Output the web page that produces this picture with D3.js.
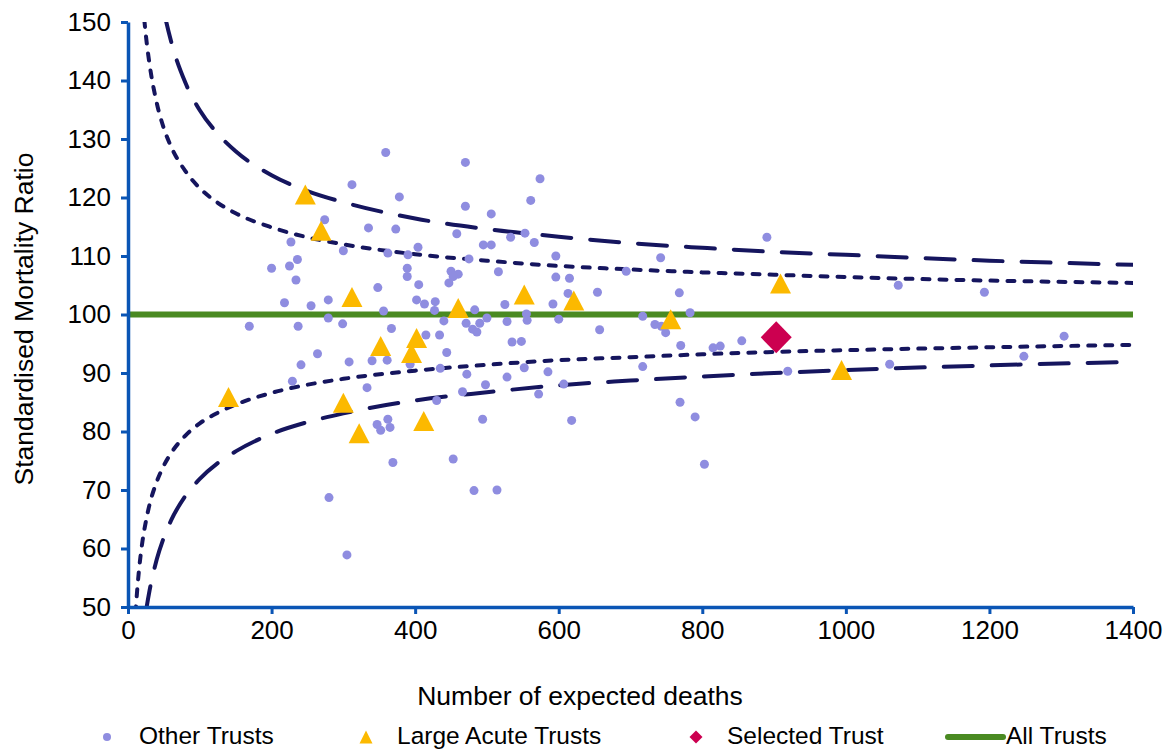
<!DOCTYPE html>
<html>
<head>
<meta charset="utf-8">
<script src="https://cdn.jsdelivr.net/npm/d3@7"></script>
<style>
  html, body { margin: 0; padding: 0; background: #ffffff; }
  svg { display: block; }
  text { font-family: "Liberation Sans", Arial, sans-serif; fill: #000; }
</style>
</head>
<body>
<svg id="chart" width="1164" height="750"></svg>
<script>
// ---------- DATA ----------
const xTicks = [0, 200, 400, 600, 800, 1000, 1200, 1400];
const yTicks = [50, 60, 70, 80, 90, 100, 110, 120, 130, 140, 150];

// Other Trusts: [expected deaths, SMR]
const otherTrusts = [
  [274,116.2],[227,112.4],[236,109.4],[225,108.3],[200,107.9],[234,105.9],[218,102.0],[255,101.5],
  [279,102.5],[279,99.4],[169,98.0],[237,98.0],
  [359,127.7],[470,126.0],[312,122.2],[574,123.2],[378,120.1],[470,118.5],[506,117.2],[561,119.5],
  [335,114.8],[373,114.6],[458,113.8],[533,113.2],[553,113.9],[566,112.3],[495,111.9],[506,111.9],
  [300,110.9],[362,110.5],[390,110.2],[404,111.5],[475,109.5],[389,107.9],[389,106.5],[450,107.4],
  [460,106.9],[453,106.5],[447,105.4],[516,107.3],[348,104.6],[405,105.1],[402,102.5],[413,101.8],
  [428,102.2],[427,100.7],[356,100.6],[483,100.8],[525,101.7],[555,100.1],[556,99.0],[299,98.4],
  [367,97.6],[440,98.9],[471,98.5],[490,98.5],[500,99.4],[528,98.8],
  [890,113.2],[596,110.0],[742,109.7],[694,107.4],[596,106.4],[615,106.2],[613,103.6],[654,103.8],
  [768,103.7],[592,101.8],[600,99.2],[717,99.7],[783,100.3],[734,98.3],[743,98.0],[749,96.9],[657,97.4],
  [264,93.3],[241,91.4],[229,88.6],[280,68.7],
  [480,97.5],[486,97.0],[415,96.5],[434,96.5],[444,93.5],[535,95.3],[548,95.4],[308,91.9],[340,92.1],
  [361,92.2],[393,91.5],[435,90.8],[472,89.8],[498,88.0],[528,89.3],[552,90.9],[585,90.2],[572,86.4],
  [333,87.5],[430,85.3],[466,86.8],[494,82.1],[347,81.2],[352,80.2],[362,82.1],[365,80.7],[369,74.7],
  [453,75.3],[482,69.9],[514,70.0],[305,58.9],
  [770,94.7],[815,94.3],[825,94.6],[855,95.5],[717,91.1],[607,88.1],[919,90.3],[769,85.0],[790,82.5],
  [618,81.9],[803,74.4],
  [1073,105.0],[1193,103.8],[1304,96.3],[1248,92.85],[1061,91.5]
];

// Large Acute Trusts
const largeAcute = [
  [247,120.5],[269,114.3],[312,103.0],[460,101.1],[552,103.4],[621,102.4],[756,99.2],[909,105.3],
  [140,85.9],[352,94.6],[402,96.0],[395,93.4],[300,84.9],[322,79.7],[412,81.8],[994,90.5]
];

// Selected Trust
const selectedTrust = [[903,96.1]];

// All Trusts reference line
const allTrusts = [[0,100],[1400,100]];

// Control limits
const upperE = [15,20,25,30,40,50,60,80,100,125,150,200,250,300,400,500,600,700,800,900,1000,1200,1400];
const upper95 = [164.9,154.4,147.6,142.8,136.2,131.8,128.7,124.5,121.6,119.1,117.3,114.9,113.2,112.0,110.3,109.2,108.3,107.7,107.2,106.8,106.4,105.8,105.4];
const upper998 = [208.6,190.4,178.7,170.4,159.2,151.9,146.7,139.6,134.9,130.9,127.9,123.8,121.1,119.2,116.4,114.6,113.3,112.2,111.4,110.7,110.2,109.2,108.5];
const lowerE = [8,10,12,15,20,25,30,40,50,60,80,100,125,150,200,250,300,400,500,600,700,800,900,1000,1200,1400];
const lower95 = [43.1,47.9,51.6,55.9,61.1,64.7,67.5,71.4,74.2,76.3,79.3,81.4,83.2,84.6,86.6,88.0,89.0,90.4,91.4,92.2,92.7,93.2,93.6,93.9,94.4,94.8];
const lower998 = [24.1,29.2,33.3,38.4,44.6,49.2,52.8,58.1,61.9,64.8,69.0,71.9,74.6,76.6,79.6,81.6,83.1,85.3,86.7,87.9,88.7,89.4,90.0,90.5,91.3,91.9];

const legendLabels = ["Other Trusts", "Large Acute Trusts", "Selected Trust", "All Trusts"];

// ---------- DRAW ----------
const svg = d3.select("#chart");
const L = 128, R = 1133, T = 22, B = 607;
const x = d3.scaleLinear().domain([0, 1400]).range([L, R]);
const y = d3.scaleLinear().domain([50, 150]).range([B, T]);

const axisBlue = "#0a55b5";
const navy = "#15155e";
const green = "#4a8a22";
const purple = "#8f8de0";
const amber = "#fcb900";
const crimson = "#cc0050";

svg.append("rect").attr("width", 1164).attr("height", 750).attr("fill", "#fff");

svg.append("clipPath").attr("id", "plotClip")
  .append("rect").attr("x", L).attr("y", T).attr("width", R - L).attr("height", B - T);

const line = d3.line().x(d => x(d[0])).y(d => y(d[1])).curve(d3.curveMonotoneX);
const gLines = svg.append("g").attr("clip-path", "url(#plotClip)");

function funnel(es, vs, dash) {
  gLines.append("path")
    .datum(es.map((e, i) => [e, vs[i]]))
    .attr("d", line)
    .attr("fill", "none")
    .attr("stroke", navy)
    .attr("stroke-width", 4)
    .attr("stroke-linecap", "round")
    .attr("stroke-dasharray", dash);
}
funnel(upperE, upper95, "7,10");
funnel(lowerE, lower95, "7,10");
funnel(upperE, upper998, "29,19");
funnel(lowerE, lower998, "29,19");

// All trusts line
svg.append("path")
  .datum(allTrusts)
  .attr("d", d3.line().x(d => x(d[0])).y(d => y(d[1])))
  .attr("fill", "none")
  .attr("stroke", green)
  .attr("stroke-width", 6);

// Other trusts
svg.append("g").selectAll("circle").data(otherTrusts).join("circle")
  .attr("cx", d => x(d[0])).attr("cy", d => y(d[1])).attr("r", 4.5)
  .attr("fill", purple);

// Large acute triangles
function tri(cx, cy, w, h) {
  return `M${cx},${cy - h / 2}L${cx + w / 2},${cy + h / 2}L${cx - w / 2},${cy + h / 2}Z`;
}
svg.append("g").selectAll("path").data(largeAcute).join("path")
  .attr("d", d => tri(x(d[0]), y(d[1]), 21, 20))
  .attr("fill", amber);

// Selected trust diamond
function diamond(cx, cy, w, h) {
  return `M${cx},${cy - h / 2}L${cx + w / 2},${cy}L${cx},${cy + h / 2}L${cx - w / 2},${cy}Z`;
}
svg.append("g").selectAll("path").data(selectedTrust).join("path")
  .attr("d", d => diamond(x(d[0]), y(d[1]), 31, 32))
  .attr("fill", crimson);

// Axes
const yAxis = d3.axisLeft(y).tickValues(yTicks).tickSize(7).tickSizeOuter(0).tickPadding(10)
  .tickFormat(d3.format("d"));
const xAxis = d3.axisBottom(x).tickValues(xTicks).tickSize(7).tickSizeOuter(0).tickPadding(7)
  .tickFormat(d3.format("d"));

const gy = svg.append("g").attr("transform", `translate(${L},0)`).call(yAxis);
const gx = svg.append("g").attr("transform", `translate(0,${B})`).call(xAxis);
[gy, gx].forEach(g => {
  g.select(".domain").attr("stroke", axisBlue).attr("stroke-width", 3.5);
  g.selectAll(".tick line").attr("stroke", axisBlue).attr("stroke-width", 3);
  g.selectAll(".tick text").attr("fill", "#000").attr("font-size", 26)
    .attr("font-family", '"Liberation Sans", Arial, sans-serif');
});

// Axis titles
svg.append("text")
  .attr("transform", "translate(33,319) rotate(-90)")
  .attr("text-anchor", "middle")
  .attr("font-size", 26.5)
  .text("Standardised Mortality Ratio");

svg.append("text")
  .attr("x", 580).attr("y", 705)
  .attr("text-anchor", "middle")
  .attr("font-size", 26.5)
  .text("Number of expected deaths");

// Legend
const ly = 737;
const lty = 744;
const lg = svg.append("g");
lg.append("circle").attr("cx", 107).attr("cy", ly).attr("r", 4).attr("fill", purple);
lg.append("text").attr("x", 139).attr("y", lty).attr("font-size", 24.5).text(legendLabels[0]);
lg.append("path").attr("d", tri(366, ly, 13, 13)).attr("fill", amber);
lg.append("text").attr("x", 397).attr("y", lty).attr("font-size", 24.5).text(legendLabels[1]);
lg.append("path").attr("d", diamond(696, ly, 13, 13)).attr("fill", crimson);
lg.append("text").attr("x", 727).attr("y", lty).attr("font-size", 24.5).text(legendLabels[2]);
lg.append("line").attr("x1", 948).attr("x2", 1003).attr("y1", ly).attr("y2", ly)
  .attr("stroke", green).attr("stroke-width", 6).attr("stroke-linecap", "round");
lg.append("text").attr("x", 1006).attr("y", lty).attr("font-size", 24.5).text(legendLabels[3]);
</script>
</body>
</html>
